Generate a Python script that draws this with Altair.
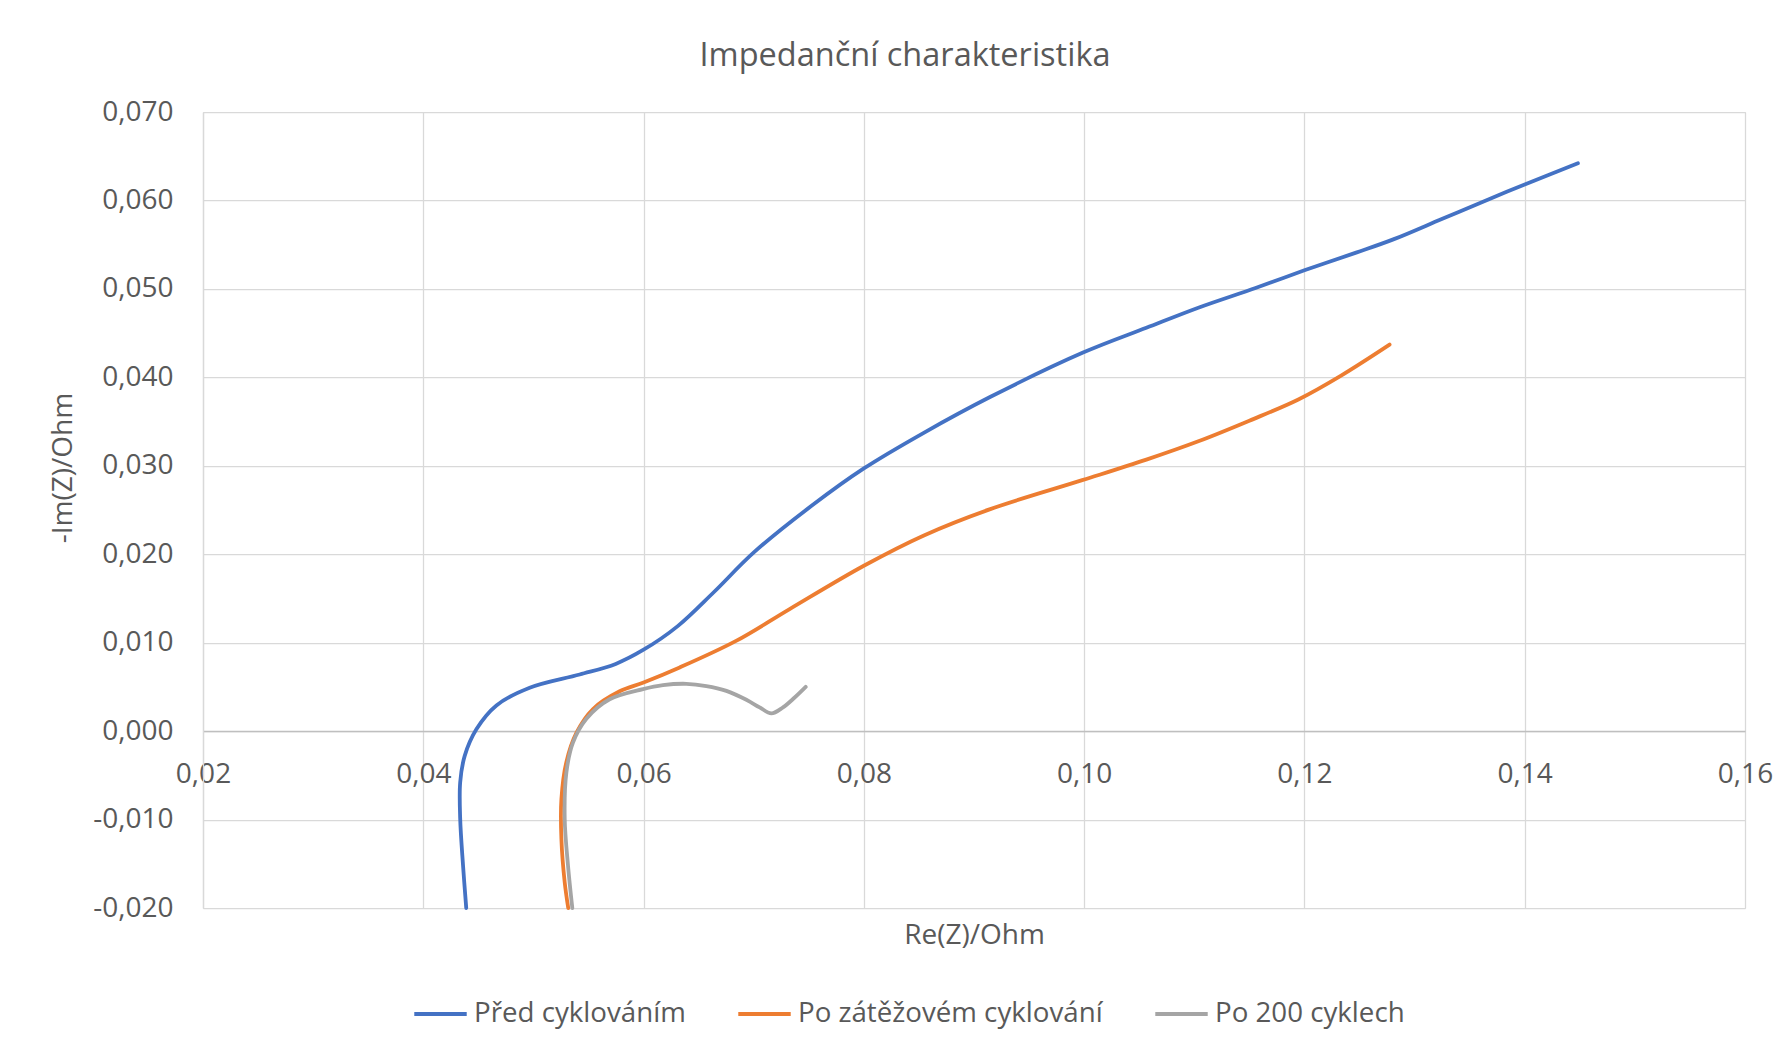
import altair as alt
import pandas as pd

# ---- data ----
series_names = ["Před cyklováním", "Po zátěžovém cyklování", "Po 200 cyklech"]
series_colors = ["#4472C4", "#ED7D31", "#A5A5A5"]

pred_re = [0.0439, 0.04361, 0.04335, 0.04335, 0.04376, 0.04482, 0.04664, 0.04966,
           0.0542, 0.05747, 0.0600, 0.06313, 0.06637, 0.07001, 0.07528, 0.0800,
           0.0854, 0.0915, 0.0999, 0.10565, 0.11043, 0.11556, 0.1200, 0.12469,
           0.12807, 0.13247, 0.13686, 0.1400, 0.14483]
pred_im = [-0.0200, -0.0152, -0.0099, -0.0058, -0.0028, 0.0002, 0.0029, 0.0049,
           0.0064, 0.0076, 0.0092, 0.0119, 0.0157, 0.0202, 0.0255, 0.0297,
           0.0337, 0.0378, 0.0428, 0.0456, 0.0479, 0.0501, 0.0521, 0.0541,
           0.0556, 0.0579, 0.0602, 0.0618, 0.0642]

zatez_re = [0.05316, 0.05284, 0.05254, 0.05254, 0.05299, 0.0539, 0.05541, 0.05783,
            0.0600, 0.06328, 0.0684, 0.07326, 0.0800, 0.0854, 0.09148, 0.0999,
            0.10565, 0.11043, 0.1150, 0.11945, 0.12333, 0.12773]
zatez_im = [-0.0200, -0.0171, -0.0122, -0.0077, -0.0035, -0.0002, 0.0025, 0.0045,
            0.0055, 0.0072, 0.0102, 0.0138, 0.0187, 0.0221, 0.0251, 0.0284,
            0.0307, 0.0328, 0.0351, 0.0375, 0.0402, 0.0437]

c200_re = [0.05353, 0.05314, 0.05284, 0.05299, 0.05359, 0.05481, 0.05692, 0.05995,
           0.06176, 0.06389, 0.0657, 0.06752, 0.06933, 0.07054, 0.0716, 0.07266,
           0.07372, 0.07472]
c200_im = [-0.0200, -0.0152, -0.0099, -0.0047, -0.0013, 0.0014, 0.0036, 0.00475,
           0.0052, 0.00535, 0.0051, 0.00455, 0.00354, 0.00268, 0.0020, 0.00268,
           0.0038, 0.0050]

x_ticks = [0.02, 0.04, 0.06, 0.08, 0.10, 0.12, 0.14, 0.16]
y_ticks = [-0.02, -0.01, 0.0, 0.01, 0.02, 0.03, 0.04, 0.05, 0.06, 0.07]

rows = []
for name, xs, ys in zip(series_names, [pred_re, zatez_re, c200_re], [pred_im, zatez_im, c200_im]):
    for i, (a, b) in enumerate(zip(xs, ys)):
        rows.append({"serie": name, "re": a, "im": b, "i": i})
df = pd.DataFrame(rows)

FONT = "Open Sans"
TXT = "#595959"
GRID = "#D9D9D9"
FS = 28

W, H = 1542, 796

x_axis = alt.Axis(
    values=x_ticks, title="Re(Z)/Ohm", offset=-177,
    labelExpr="replace(format(datum.value, '.2f'), '.', ',')",
    ticks=False, tickSize=0, labelPadding=29, labelBaseline="top",
    labelFlush=False, labelOverlap=False,
    domainColor="#BFBFBF", domainWidth=1.5,
    grid=True, gridColor=GRID, gridWidth=1.25,
    labelFont=FONT, labelFontSize=FS, labelColor=TXT,
    titleFont=FONT, titleFontSize=FS, titleColor=TXT, titleFontWeight="normal",
    titleBaseline="alphabetic", titleY=212, titleX=W / 2,
)
y_axis = alt.Axis(
    values=y_ticks, title="-Im(Z)/Ohm",
    labelExpr="replace(replace(format(datum.value, '.3f'), '.', ','), '\u2212', '-')",
    ticks=False, tickSize=0, labelPadding=30, labelFlush=False, labelOverlap=False,
    domainColor=GRID, domainWidth=1.25,
    grid=True, gridColor=GRID, gridWidth=1.25,
    labelFont=FONT, labelFontSize=FS, labelColor=TXT,
    titleFont=FONT, titleFontSize=FS, titleColor=TXT, titleFontWeight="normal",
    titleAngle=270, titleAlign="center", titleBaseline="alphabetic",
    titleX=-131.6, titleY=355.5,
)

chart = alt.Chart(df).mark_line(
    interpolate="catmull-rom", strokeWidth=3.8, strokeCap="round", strokeJoin="round"
).encode(
    x=alt.X("re:Q", scale=alt.Scale(domain=[0.02, 0.16], nice=False, zero=False), axis=x_axis),
    y=alt.Y("im:Q", scale=alt.Scale(domain=[-0.02, 0.07], nice=False, zero=False), axis=y_axis),
    color=alt.Color(
        "serie:N",
        scale=alt.Scale(domain=series_names, range=series_colors),
        legend=alt.Legend(
            title=None, orient="none", legendX=209, legendY=873, direction="horizontal",
            symbolType="stroke", symbolSize=2750, symbolStrokeWidth=4,
            labelFont=FONT, labelFontSize=27.7, labelColor=TXT, labelLimit=0,
            columnPadding=44, labelOffset=5, padding=0,
        ),
    ),
    order="i:Q",
).properties(
    width=W, height=H,
    title=alt.TitleParams(
        "Impedanční charakteristika", font=FONT, fontSize=32.5, fontWeight="normal",
        color=TXT, anchor="middle", frame="group", baseline="alphabetic",
        offset=0, dx=-69,
    ),
    autosize=alt.AutoSizeParams(type="none"),
    padding={"left": 195, "top": 104, "right": 31, "bottom": 134},
).configure_view(stroke=None).configure(background="white")

chart.save("out.html", embed_options={"renderer": "svg", "actions": False})
